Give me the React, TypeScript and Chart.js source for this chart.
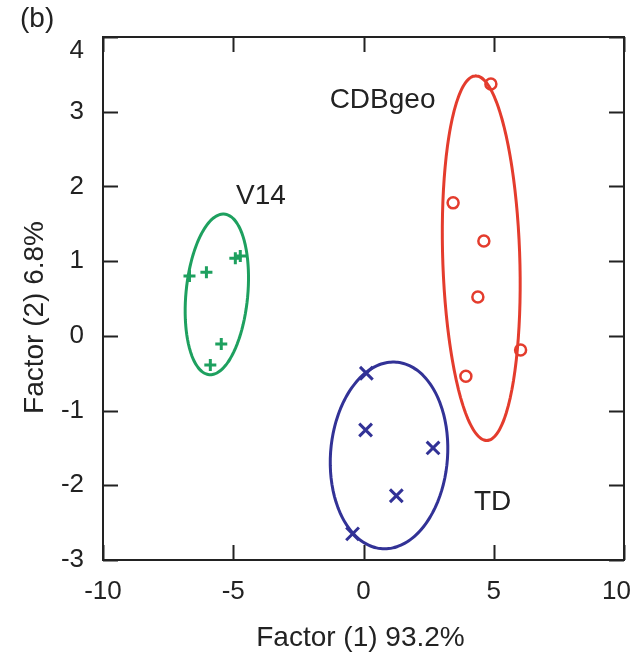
import React, { useEffect, useRef } from "react";
import { Chart, registerables } from "chart.js";

Chart.register(...registerables);

// ---- data ----
const xTicks = [-10, -5, 0, 5, 10];
const yTicks = [-3, -2, -1, 0, 1, 2, 3, 4];

const v14X = [-6.68, -6.03, -4.92, -4.73, -5.46, -5.88];
const v14Y = [0.8, 0.85, 1.04, 1.07, -0.11, -0.39];

const cdbX = [4.89, 3.44, 4.62, 4.39, 6.03, 3.93];
const cdbY = [3.37, 1.78, 1.27, 0.52, -0.19, -0.54];

const tdX = [0.11, 0.08, 2.67, 1.26, -0.42];
const tdY = [-0.5, -1.26, -1.5, -2.14, -2.65];

// ellipses: centre + conjugate semi-axes [cx, cy, ux, uy, vx, vy]
const v14Ellipse = [-5.63, 0.555, 0.25, 1.075, 1.19, 0];
const cdbEllipse = [4.52, 1.04, -0.21, 2.44, 1.48, 0];
const tdEllipse = [0.98, -1.6, 0.17, 1.25, 2.25, 0];

// cluster labels (data coordinates of left/baseline)
const labelTexts = ["CDBgeo", "V14", "TD"];
const labelX = [-1.3, -4.89, 4.24];
const labelY = [3.05, 1.76, -2.33];

const xTitle = "Factor (1) 93.2%";
const yTitle = "Factor (2) 6.8%";
const panelTag = "(b)";

const GREEN = "rgb(30,160,95)";
const RED = "rgb(228,60,45)";
const BLUE = "rgb(50,50,150)";
const INK = "#222222";
const FONT = '"Liberation Sans", Arial, Helvetica, sans-serif';

function pts(xs: number[], ys: number[]) {
  return xs.map((x, i) => ({ x, y: ys[i] }));
}

function ellipsePts(e: number[]) {
  const [cx, cy, ux, uy, vx, vy] = e;
  const out: { x: number; y: number }[] = [];
  const n = 90;
  for (let i = 0; i <= n; i++) {
    const t = (i / n) * Math.PI * 2;
    out.push({
      x: cx + ux * Math.cos(t) + vx * Math.sin(t),
      y: cy + uy * Math.cos(t) + vy * Math.sin(t),
    });
  }
  return out;
}

const framePlugin = {
  id: "frame",
  afterDraw(chart: any) {
    const ctx = chart.ctx as CanvasRenderingContext2D;
    const { left, right, top, bottom } = chart.chartArea;
    const xs = chart.scales.x;
    const ys = chart.scales.y;
    ctx.save();
    // frame
    ctx.strokeStyle = INK;
    ctx.lineWidth = 2;
    ctx.strokeRect(left, top, right - left, bottom - top);
    // inward ticks on all four sides
    const tl = 15;
    ctx.beginPath();
    xTicks.forEach((v) => {
      const px = Math.round(xs.getPixelForValue(v)) + 0.5;
      ctx.moveTo(px, bottom);
      ctx.lineTo(px, bottom - tl);
      ctx.moveTo(px, top);
      ctx.lineTo(px, top + tl);
    });
    yTicks.forEach((v) => {
      const py = Math.round(ys.getPixelForValue(v)) + 0.5;
      ctx.moveTo(left, py);
      ctx.lineTo(left + tl, py);
      ctx.moveTo(right, py);
      ctx.lineTo(right - tl, py);
    });
    ctx.stroke();

    ctx.fillStyle = INK;
    // tick labels
    ctx.font = `26px ${FONT}`;
    ctx.textBaseline = "middle";
    ctx.textAlign = "center";
    xTicks.forEach((v) => {
      const txt = String(v);
      const w = ctx.measureText(txt).width;
      let px = xs.getPixelForValue(v);
      px = Math.min(px, 631 - w / 2);
      ctx.fillText(txt, px, bottom + 32);
    });
    ctx.textAlign = "right";
    yTicks.forEach((v) => {
      const txt = String(v);
      let py = ys.getPixelForValue(v);
      py = Math.max(py, top + 14);
      ctx.fillText(txt, left - 19, py);
    });

    // axis titles
    ctx.font = `28px ${FONT}`;
    ctx.textBaseline = "alphabetic";
    ctx.textAlign = "center";
    ctx.fillText(xTitle, (left + right) / 2 - 3, bottom + 86);
    ctx.save();
    ctx.translate(left - 60, (top + bottom) / 2 + 19);
    ctx.rotate(-Math.PI / 2);
    ctx.fillText(yTitle, 0, 0);
    ctx.restore();

    // cluster labels
    ctx.textAlign = "left";
    labelTexts.forEach((t, i) => {
      ctx.fillText(t, xs.getPixelForValue(labelX[i]), ys.getPixelForValue(labelY[i]));
    });

    // panel tag
    ctx.fillText(panelTag, 20, 27);
    ctx.restore();
  },
};

export default function App() {
  const ref = useRef<HTMLCanvasElement | null>(null);
  useEffect(() => {
    if (!ref.current) return;
    const lineDs = (data: any, color: string) => ({
      type: "line" as const,
      data,
      borderColor: color,
      borderWidth: 3,
      borderJoinStyle: "round",
      borderCapStyle: "round",
      pointRadius: 0,
      pointHoverRadius: 0,
      fill: false,
      tension: 0.1,
      showLine: true,
    });
    const chart = new Chart(ref.current, {
      type: "scatter",
      data: {
        datasets: [
          lineDs(ellipsePts(v14Ellipse), GREEN),
          lineDs(ellipsePts(cdbEllipse), RED),
          lineDs(ellipsePts(tdEllipse), BLUE),
          {
            data: pts(v14X, v14Y),
            pointStyle: "cross",
            pointRadius: 6,
            borderWidth: 3,
            borderColor: GREEN,
            backgroundColor: GREEN,
          },
          {
            data: pts(cdbX, cdbY),
            pointStyle: "circle",
            pointRadius: 5.5,
            borderWidth: 2.5,
            borderColor: RED,
            backgroundColor: "#ffffff",
          },
          {
            data: pts(tdX, tdY),
            pointStyle: "crossRot",
            pointRadius: 9,
            borderWidth: 3,
            borderColor: BLUE,
            backgroundColor: BLUE,
          },
        ] as any,
      },
      options: {
        animation: false,
        responsive: false,
        devicePixelRatio: 1,
        layout: { padding: { left: 103, top: 37, right: 9, bottom: 92 } },
        plugins: { legend: { display: false }, tooltip: { enabled: false } },
        scales: {
          x: { type: "linear", min: -10, max: 10, display: false },
          y: { type: "linear", min: -3, max: 4, display: false },
        },
      },
      plugins: [framePlugin],
    });
    return () => chart.destroy();
  }, []);
  return (
    <div style={{ position: "fixed", left: 0, top: 0, width: 636, height: 652, background: "#fff" }}>
      <canvas ref={ref} width={636} height={652} />
    </div>
  );
}
